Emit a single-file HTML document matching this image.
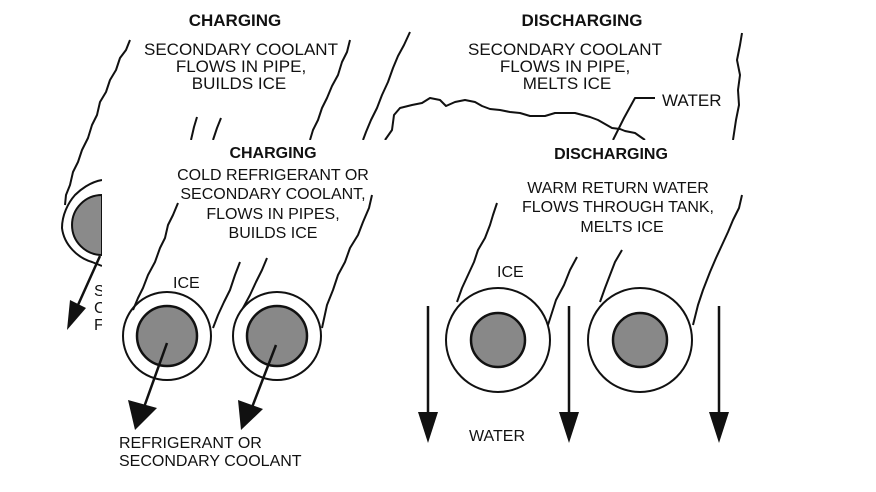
<!DOCTYPE html>
<html><head><meta charset="utf-8"><style>
html,body{margin:0;padding:0;background:#fff;}
svg{display:block;}
text{font-family:"Liberation Sans",Arial,sans-serif;fill:#111;}
</style></head><body>
<svg width="876" height="492" viewBox="0 0 876 492" xmlns="http://www.w3.org/2000/svg">
<g stroke="#111" stroke-width="2" fill="none" stroke-linejoin="round">
<!-- background image -->
<polyline points="130,40 126,50 120,58 116,70 110,80 106,92 100,102 97,115 92,125 88,138 82,150 78,162 73,172 70,185 66,195 65,205"/>
<polyline points="350,40 347,52 342,62 338,75 332,86 327,98 322,108 318,120 313,130 310,140"/>
<polyline points="410,32 404,45 398,56 393,68 388,82 382,95 377,108 371,120 366,132 363,140"/>
<polyline points="197,117 194,127 191,140"/>
<polyline points="221,118 217,128 213,140"/>
<polyline points="385,140 392,130 394,115 400,108 412,105 422,103 430,98 440,100 446,106 455,102 465,100 475,102 482,106 490,109 500,110 510,112 520,113 530,116 545,116 555,113 575,113 590,117 598,120 605,124 612,128 620,129 625,131 635,133 645,140"/>
<polyline points="613,140 624,118 635,98 655,98"/>
<polyline points="742,33 740,45 737,60 740,75 738,90 739,105 736,120 733,140"/>
<path d="M102,180 C90,182 80,190 75,195 C68,203 62,215 62,228 C64,245 78,258 92,262 L102,266"/>
</g>
<path d="M102,195 A30,30 0 0 0 102,255 Z" fill="#8a8a8a" stroke="#111" stroke-width="2"/>
<line x1="100" y1="256" x2="78" y2="305" stroke="#111" stroke-width="2.5"/>
<polygon points="67,330 70,300 86,308" fill="#111"/>
<text x="94" y="296" font-size="16">S</text>
<text x="94" y="313" font-size="16">C</text>
<text x="94" y="330" font-size="16">F</text>
<text x="235" y="26" font-size="17" font-weight="bold" text-anchor="middle">CHARGING</text>
<g font-size="17" text-anchor="middle">
<text x="241" y="55">SECONDARY COOLANT</text>
<text x="241" y="72">FLOWS IN PIPE,</text>
<text x="239" y="89">BUILDS ICE</text>
<text x="565" y="55">SECONDARY COOLANT</text>
<text x="565" y="72">FLOWS IN PIPE,</text>
<text x="567" y="89">MELTS ICE</text>
</g>
<text x="582" y="26" font-size="17" font-weight="bold" text-anchor="middle">DISCHARGING</text>
<text x="662" y="106" font-size="17">WATER</text>

<!-- overlay image -->
<rect x="102" y="140" width="658" height="352" fill="#fff"/>
<text x="273" y="158" font-size="16" font-weight="bold" text-anchor="middle">CHARGING</text>
<text x="611" y="159" font-size="16" font-weight="bold" text-anchor="middle">DISCHARGING</text>
<g font-size="16" text-anchor="middle">
<text x="273" y="180">COLD REFRIGERANT OR</text>
<text x="273" y="199">SECONDARY COOLANT,</text>
<text x="273" y="219">FLOWS IN PIPES,</text>
<text x="273" y="238">BUILDS ICE</text>
<text x="618" y="193">WARM RETURN WATER</text>
<text x="618" y="212">FLOWS THROUGH TANK,</text>
<text x="622" y="232">MELTS ICE</text>
</g>
<g stroke="#111" stroke-width="2" fill="none" stroke-linejoin="round">
<polyline points="178,203 173,215 168,225 165,238 160,248 155,262 148,275 143,288 138,298 133,310"/>
<polyline points="240,262 235,275 230,290 224,302 218,315 213,328"/>
<polyline points="267,258 262,270 256,282 250,295 243,308"/>
<polyline points="372,195 369,208 363,222 358,235 350,248 345,262 338,275 333,290 327,305 322,328"/>
<polyline points="497,203 493,215 490,225 485,238 478,250 474,262 468,275 462,288 457,302"/>
<polyline points="577,257 570,270 564,285 556,300 548,325"/>
<polyline points="622,250 615,262 610,275 605,288 600,302"/>
<polyline points="742,195 739,208 733,220 728,232 722,245 716,258 710,272 703,290 698,305 693,325"/>
<circle cx="167" cy="336" r="44"/>
<circle cx="277" cy="336" r="44"/>
<circle cx="498" cy="340" r="52"/>
<circle cx="640" cy="340" r="52"/>
</g>
<g fill="#888" stroke="#111" stroke-width="2.5">
<circle cx="167" cy="336" r="30"/>
<circle cx="277" cy="336" r="30"/>
<circle cx="498" cy="340" r="27"/>
<circle cx="640" cy="340" r="27"/>
</g>
<g stroke="#111" stroke-width="2.5">
<line x1="167" y1="343" x2="143" y2="410"/>
<line x1="276" y1="345" x2="251" y2="410"/>
<line x1="428" y1="306" x2="428" y2="415"/>
<line x1="569" y1="306" x2="569" y2="415"/>
<line x1="719" y1="306" x2="719" y2="415"/>
</g>
<g fill="#111">
<polygon points="135,430 128,400 157,408"/>
<polygon points="241,430 238,400 263,409"/>
<polygon points="428,443 418,412 438,412"/>
<polygon points="569,443 559,412 579,412"/>
<polygon points="719,443 709,412 729,412"/>
</g>
<g font-size="16">
<text x="173" y="288">ICE</text>
<text x="497" y="277">ICE</text>
<text x="469" y="441">WATER</text>
<text x="119" y="448">REFRIGERANT OR</text>
<text x="119" y="466">SECONDARY COOLANT</text>
</g>
</svg>
</body></html>
